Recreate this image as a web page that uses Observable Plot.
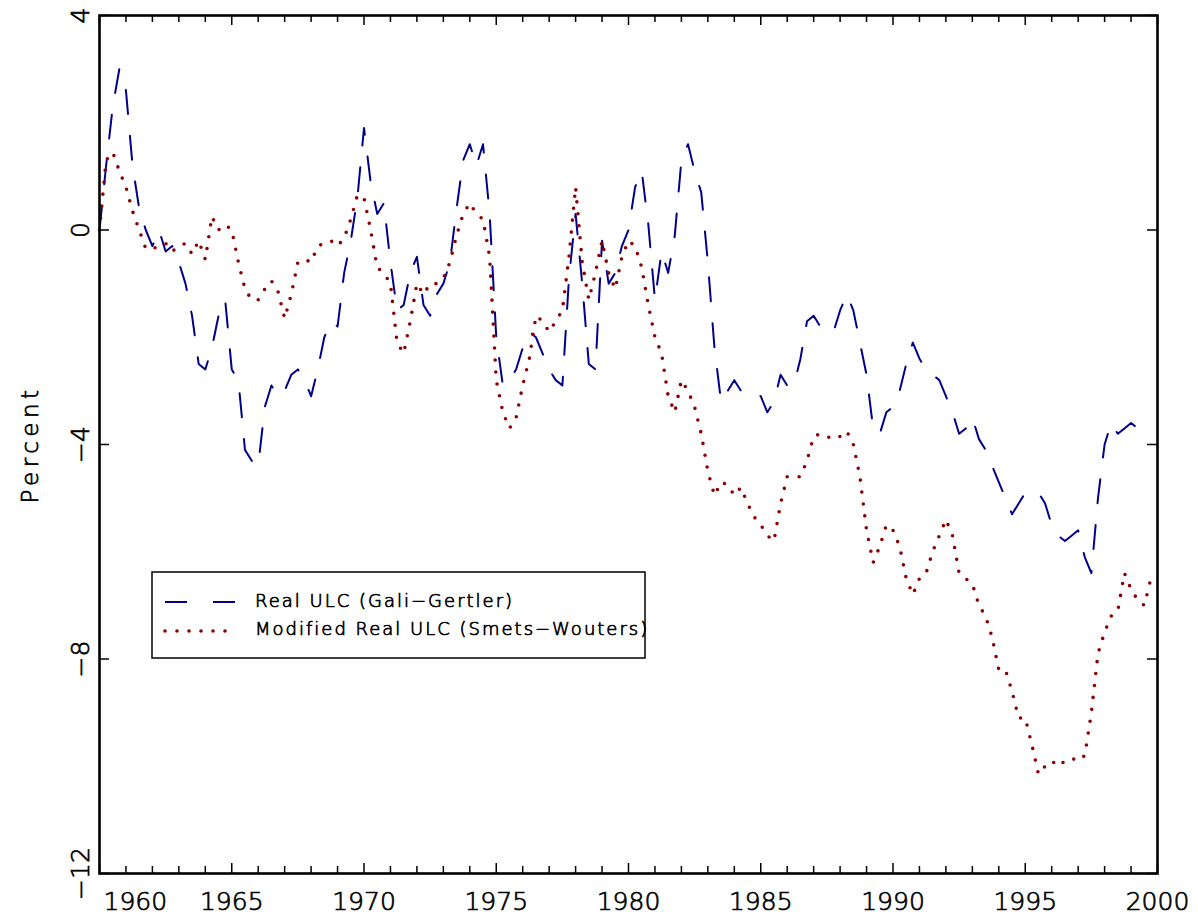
<!DOCTYPE html>
<html>
<head>
<meta charset="utf-8">
<script src="https://cdn.jsdelivr.net/npm/d3@7"></script>
<script src="https://cdn.jsdelivr.net/npm/@observablehq/plot@0.6"></script>
<style>
  html, body { margin: 0; padding: 0; background: #fff; }
  #chart svg text { stroke: #000; stroke-width: 0.7px; fill: #000; }
</style>
</head>
<body>
<div id="chart"></div>
<script>
// Quarterly data, first observation 1960Q1
const startYear = 1960;
const seriesNames = ["Real ULC (Gali\u2212Gertler)", "Modified Real ULC (Smets\u2212Wouters)"];

const galiGertler = [
  0, 1.2, 2.3, 3.0, 2.6, 1.2, 0.4, 0.0, -0.3, 0.0,
  -0.4, -0.3, -0.6, -1.0, -1.6, -2.5, -2.6, -2.2, -1.6, -1.3,
  -2.6, -2.8, -4.1, -4.3, -4.4, -3.3, -2.9, -3.1, -3.0, -2.7,
  -2.6, -2.8, -3.1, -2.6, -2.0, -1.7, -1.8, -0.8, -0.2, 0.6,
  1.9, 0.9, 0.3, 0.5, -0.6, -1.5, -1.4, -0.8, -0.5, -1.4,
  -1.6, -1.2, -1.0, -0.6, 0.4, 1.3, 1.6, 1.2, 1.6, 0.3,
  -2.0, -2.9, -2.8, -2.6, -2.2, -1.9, -2.0, -2.3, -2.6, -2.8,
  -2.9, -0.9, 0.3, -1.0, -2.5, -2.6, -0.2, -1.0, -0.8, -0.3,
  0.0, 0.8, 1.1, 0.1, -1.3, -0.4, -0.8, -0.1, 1.3, 1.6,
  1.1, 0.7, -0.6, -2.2, -3.2, -3.0, -2.8, -3.0, -3.0, -3.0,
  -3.1, -3.4, -3.2, -2.7, -2.9, -2.9, -2.4, -1.7, -1.6, -1.8,
  -1.8, -1.9, -1.5, -1.2, -1.5, -2.1, -2.7, -3.7, -3.8, -3.4,
  -3.3, -3.0, -2.5, -2.1, -2.4, -2.6, -2.7, -2.8, -3.1, -3.4,
  -3.8, -3.7, -3.5, -3.9, -4.1, -4.4, -4.7, -5.0, -5.3, -5.1,
  -4.9, -4.9, -4.9, -5.1, -5.5, -5.7, -5.8, -5.7, -5.6, -6.1,
  -6.4, -5.0, -4.0, -3.6, -3.8, -3.7, -3.6, -3.7, -3.8, -3.9
];

const smetsWouters = [
  0, 1.3, 1.45, 1.1, 0.8, 0.35, 0.0, -0.35, -0.35, -0.3,
  -0.25, -0.4, -0.3, -0.25, -0.45, -0.2, -0.55, 0.25, 0.0, 0.1,
  0.0, -0.6, -1.1, -1.3, -1.3, -1.1, -0.95, -1.15, -1.65, -1.2,
  -0.6, -0.55, -0.6, -0.3, -0.25, -0.2, -0.3, -0.15, 0.2, 0.65,
  0.6, 0.0, -0.7, -0.8, -1.0, -2.1, -2.3, -1.7, -1.0, -1.2,
  -1.0, -1.0, -0.9, -0.6, -0.1, 0.3, 0.5, 0.3, 0.2, -0.5,
  -2.8, -3.4, -3.7, -3.5, -2.9, -2.4, -1.6, -1.7, -1.9, -1.7,
  -1.5, -0.5, 0.8, -0.6, -1.3, -0.8, -0.2, -0.8, -1.1, -0.5,
  -0.2, -0.3, -0.7, -1.4, -2.0, -2.3, -3.1, -3.4, -2.8, -3.0,
  -3.3, -3.8, -4.5, -4.95, -4.7, -4.75, -4.95, -4.8, -5.1, -5.35,
  -5.5, -5.7, -5.8, -5.1, -4.6, -4.6, -4.6, -4.3, -3.85, -3.8,
  -3.85, -3.9, -3.85, -3.75, -4.0, -4.6, -5.6, -6.2, -5.9, -5.5,
  -5.6, -5.9, -6.5, -6.8, -6.5, -6.4, -6.0, -5.7, -5.4, -5.7,
  -6.4, -6.5, -6.6, -7.0, -7.2, -7.6, -8.2, -8.2, -8.6, -9.1,
  -9.1, -9.6, -10.15, -10.0, -9.9, -10.0, -9.9, -9.85, -9.9, -9.8,
  -9.0, -7.9, -7.5, -7.2, -7.1, -6.4, -6.7, -6.9, -7.0, -6.5
];

const xLabelYears = [1960, 1965, 1970, 1975, 1980, 1985, 1990, 1995, 2000];
const minorYears = d3.range(1961, 2000);
const yTicks = [4, 0, -4, -8, -12];
const yTitle = "Percent";

const rows = galiGertler.map((v, i) => ({
  date: startYear + i / 4,
  gg: v,
  sw: smetsWouters[i]
}));

const W = 1198, H = 918, mL = 99, mR = 41, mT = 15, mB = 45;
const innerW = W - mL - mR, innerH = H - mT - mB;
const FONT = "DejaVu Sans, Liberation Sans, sans-serif";
const blue = "#00008b", red = "#8b0000";
const fmt = d => d < 0 ? "\u2212" + Math.abs(d) : String(d);

const chart = Plot.plot({
  width: W, height: H,
  marginLeft: mL, marginRight: mR, marginTop: mT, marginBottom: mB,
  style: { fontFamily: FONT, background: "white", overflow: "visible", fontWeight: 200 },
  x: { domain: [1960, 2000], axis: null },
  y: { domain: [-12, 4], axis: null },
  marks: [
    Plot.line(rows, { x: "date", y: "gg", stroke: blue, strokeWidth: 2, strokeDasharray: "24,22" }),
    Plot.line(rows, { x: "date", y: "sw", stroke: red, strokeWidth: 3.6, strokeDasharray: "0,12", strokeLinecap: "round" }),
    // x ticks (bottom and top, inward)
    Plot.ruleX(minorYears.filter(d => d % 5 !== 0), { x: d => d, insetTop: innerH - 7, stroke: "black", strokeWidth: 1.5 }),
    Plot.ruleX(xLabelYears, { x: d => d, insetTop: innerH - 10, stroke: "black", strokeWidth: 1.5 }),
    Plot.ruleX(minorYears.filter(d => d % 5 !== 0), { x: d => d, insetBottom: innerH - 7, stroke: "black", strokeWidth: 1.5 }),
    Plot.ruleX(xLabelYears, { x: d => d, insetBottom: innerH - 10, stroke: "black", strokeWidth: 1.5 }),
    // y ticks (left and right, inward)
    Plot.ruleY(yTicks, { y: d => d, insetRight: innerW - 10, stroke: "black", strokeWidth: 1.5 }),
    Plot.ruleY(yTicks, { y: d => d, insetLeft: innerW - 10, stroke: "black", strokeWidth: 1.5 }),
    Plot.frame({ stroke: "black", strokeWidth: 2.6 }),
    // x tick labels
    Plot.text(xLabelYears.slice(0, 1), { x: d => d, text: d => String(d), frameAnchor: "bottom", lineAnchor: "bottom", dy: 36, dx: 4, textAnchor: "start", fontSize: 25 }),
    Plot.text(xLabelYears.slice(1), { x: d => d, text: d => String(d), frameAnchor: "bottom", lineAnchor: "bottom", dy: 36, textAnchor: "middle", fontSize: 25 }),
    // y tick labels (rotated)
    Plot.text(yTicks, { y: d => d, text: fmt, frameAnchor: "left", rotate: -90, lineAnchor: "bottom", dx: -11, textAnchor: "middle", fontSize: 25 }),
    // y title
    Plot.text([yTitle], { text: d => d, frameAnchor: "left", rotate: -90, lineAnchor: "bottom", dx: -62, textAnchor: "middle", fontSize: 23 })
  ]
});

document.getElementById("chart").appendChild(chart);

const svg = d3.select(chart);
svg.selectAll("text").filter(function () { return this.textContent === yTitle; })
  .attr("letter-spacing", "4.5px");

// Legend box
const lg = svg.append("g").attr("font-family", FONT).attr("text-anchor", "start");
lg.append("rect")
  .attr("x", 152).attr("y", 572).attr("width", 493).attr("height", 86)
  .attr("fill", "white").attr("stroke", "black").attr("stroke-width", 1.5);
lg.append("line")
  .attr("x1", 165).attr("x2", 237).attr("y1", 602).attr("y2", 602)
  .attr("stroke", blue).attr("stroke-width", 2).attr("stroke-dasharray", "22,26");
lg.append("line")
  .attr("x1", 165).attr("x2", 237).attr("y1", 631).attr("y2", 631)
  .attr("stroke", red).attr("stroke-width", 3.6).attr("stroke-dasharray", "0,12").attr("stroke-linecap", "round");
lg.selectAll("text.leg").data(seriesNames).join("text")
  .attr("class", "leg")
  .attr("x", 255)
  .attr("y", (d, i) => i === 0 ? 607 : 635)
  .attr("font-size", 18)
  .attr("letter-spacing", "2px")
  .attr("text-anchor", "start")
  .text(d => d);
</script>
</body>
</html>
